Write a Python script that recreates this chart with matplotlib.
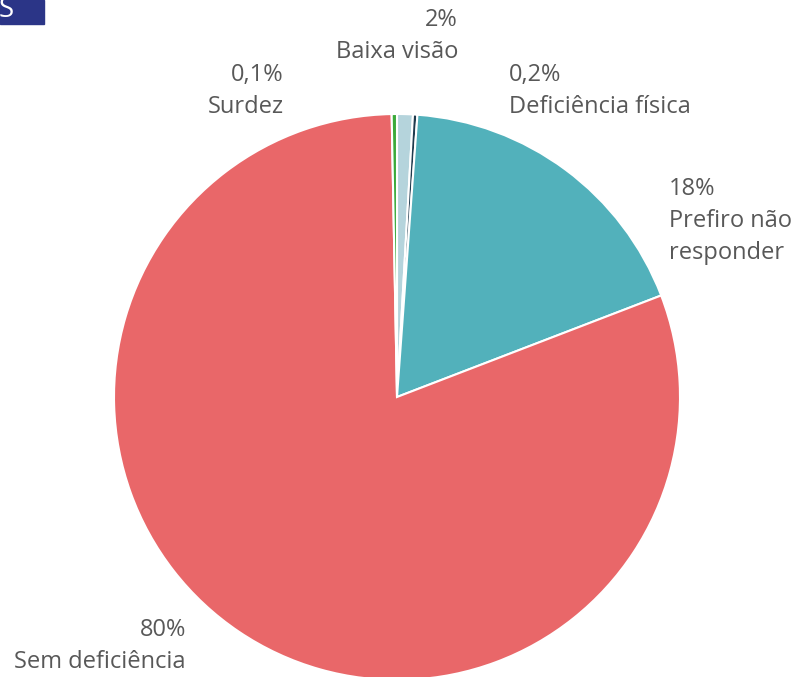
import matplotlib
matplotlib.use("Agg")
import matplotlib.pyplot as plt
from matplotlib.patches import Rectangle

categories = ["Baixa visão", "Deficiência física", "Prefiro não\nresponder", "Sem deficiência", "Surdez"]
values = [0.9, 0.25, 18.0, 80.5, 0.3]
pct_labels = ["2%", "0,2%", "18%", "80%", "0,1%"]
colors = ["#B5D4DC", "#1F3A4D", "#52B1BB", "#E96769", "#3BAA3A"]

plt.rcParams['font.family'] = ['Open Sans', 'DejaVu Sans']
W, H = 797, 677
fig = plt.figure(figsize=(W / 100, H / 100), dpi=100)
ax = fig.add_axes([0, 0, 1, 1])
ax.axis('off')

cx, cy, r = 397, H - 397, 283
ax.pie(values, colors=colors, startangle=90, counterclock=False,
       center=(cx, cy), radius=r,
       wedgeprops=dict(edgecolor='white', linewidth=1.5))
ax.set_xlim(0, W)
ax.set_ylim(0, H)
ax.set_aspect('equal')

tc = "#585858"
fs = 17
step = 32
# (x, y centre of first line in pixels, ha)
label_pos = [
    (458, 20, 'right'),
    (509, 75, 'left'),
    (669, 189, 'left'),
    (186, 630, 'right'),
    (284, 75, 'right'),
]
for (x, y, ha), pct, cat in zip(label_pos, pct_labels, categories):
    lines = [pct] + cat.split("\n")
    for i, ln in enumerate(lines):
        ax.text(x, H - (y + i * step), ln, ha=ha, va='center', fontsize=fs, color=tc)

ax.add_patch(Rectangle((0, H - 24), 44, 24, color="#2B3587", zorder=5, clip_on=False))
ax.text(6, H - 10, "S", color='white', fontsize=20, ha='center', va='center', zorder=6)

fig.savefig("out.png", dpi=100)
